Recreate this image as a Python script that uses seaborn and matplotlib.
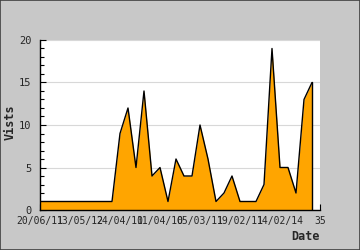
import matplotlib
matplotlib.use("Agg")
import matplotlib.pyplot as plt
import seaborn as sns
import pandas as pd
from matplotlib.patches import Rectangle
from matplotlib.ticker import MultipleLocator

visits = [1, 1, 1, 1, 1, 1, 1, 1, 1, 1,
          9, 12, 5, 14, 4, 5, 1, 6, 4, 4,
          10, 6, 1, 2, 4, 1, 1, 1, 3, 19,
          5, 5, 2, 13, 15]
x_tick_labels = ["20/06/11", "13/05/12", "24/04/10", "11/04/10",
                 "05/03/11", "19/02/11", "14/02/14", "35"]

df = pd.DataFrame({"idx": list(range(len(visits))), "visits": visits})

sns.set_style("white")
plt.rcParams['font.family'] = ['DejaVu Sans Mono', 'DejaVu Sans']

fig = plt.figure(figsize=(3.6, 2.5), dpi=100)
fig.patch.set_facecolor("#c8c8c8")
ax = fig.add_axes([40/360, 40/250, 280/360, 170/250])
ax.set_facecolor("white")

ax.fill_between(df["idx"], 0, df["visits"], color="#ffa500", zorder=2, linewidth=0)
sns.lineplot(data=df, x="idx", y="visits", ax=ax, color="black", linewidth=1, zorder=3)
ax.plot([df["idx"].iloc[-1]]*2, [0, df["visits"].iloc[-1]], color="black", linewidth=1, zorder=3)

ax.set_xlim(0, 35)
ax.set_ylim(0, 20)
ax.set_xticks(range(0, 36, 5))
ax.set_xticklabels(x_tick_labels, fontsize=7)
ax.set_yticks(range(0, 21, 5))
ax.set_yticklabels([str(v) for v in range(0, 21, 5)], fontsize=7.5)
ax.yaxis.set_minor_locator(MultipleLocator(1))
ax.tick_params(axis="x", which="major", direction="in", length=4, width=0.8, color="black", pad=4, bottom=True)
ax.tick_params(axis="y", which="major", direction="in", length=4, width=0.8, color="black", pad=6, left=True)
ax.tick_params(axis="y", which="minor", direction="in", length=3, width=0.8, color="black", left=True)

ax.grid(axis="y", which="major", color="#d8d8d8", linewidth=0.8, zorder=1)
ax.set_axisbelow(True)

for s in ["top", "right"]:
    ax.spines[s].set_visible(False)
for s in ["left", "bottom"]:
    ax.spines[s].set_color("black")
    ax.spines[s].set_linewidth(1)
    ax.spines[s].set_zorder(5)

ax.set_xlabel("")
ax.set_ylabel("")
fig.text(10/360, 1 - 122/250, "Vists", rotation=90, fontsize=8.5, fontweight="bold",
         ha="center", va="center")
fig.text(320/360, 1 - 237/250, "Date", fontsize=8.5, fontweight="bold",
         ha="right", va="center")

fig.patches.append(Rectangle((0, 0), 1, 1, transform=fig.transFigure, fill=False,
                             edgecolor="#404040", linewidth=1.2))

fig.savefig("out.png", dpi=100, facecolor=fig.get_facecolor())
